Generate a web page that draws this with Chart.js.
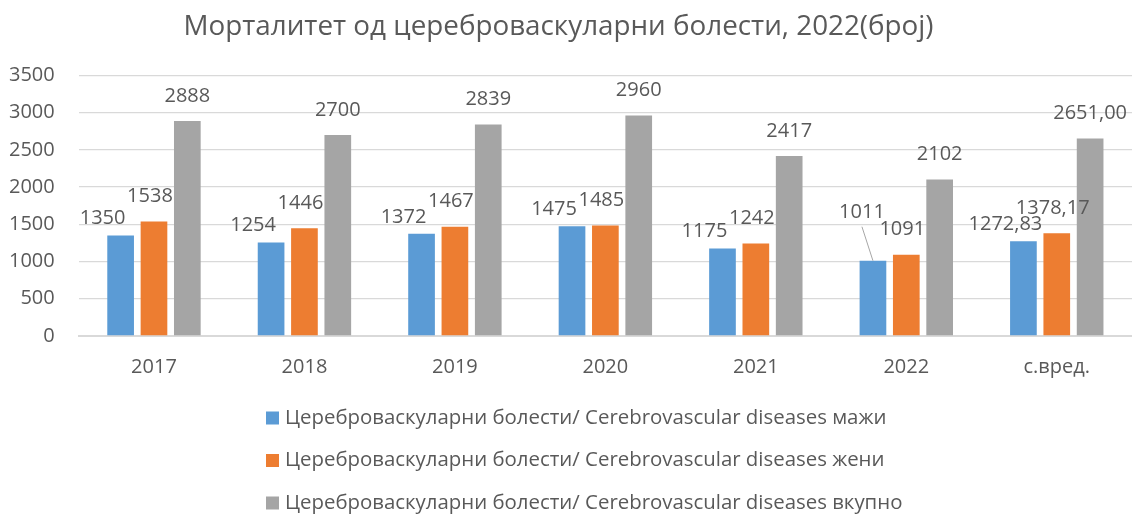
<!DOCTYPE html>
<html>
<head>
<meta charset="utf-8">
<script src="https://cdn.jsdelivr.net/npm/chart.js@4.4.1/dist/chart.umd.min.js"></script>
<style>
  html, body { margin: 0; padding: 0; background: #fff; }
  #wrap { width: 1132px; height: 516px; position: relative; }
</style>
</head>
<body>
<div id="wrap"><canvas id="mortalityChart"></canvas></div>
<script>
const categories = ['2017', '2018', '2019', '2020', '2021', '2022', 'с.вред.'];
const men = [1350, 1254, 1372, 1475, 1175, 1011, 1272.83];
const women = [1538, 1446, 1467, 1485, 1242, 1091, 1378.17];
const total = [2888, 2700, 2839, 2960, 2417, 2102, 2651.00];
const seriesNames = [
    'Цереброваскуларни болести/ Cerebrovascular diseases мажи',
    'Цереброваскуларни болести/ Cerebrovascular diseases жени',
    'Цереброваскуларни болести/ Cerebrovascular diseases вкупно'
];
const yTicks = [0, 500, 1000, 1500, 2000, 2500, 3000, 3500];

const TEXT = '#595959';
const FONT = "'Open Sans', 'Noto Sans', sans-serif";
const colors = ['#5B9BD5', '#ED7D31', '#A5A5A5'];

// label text: the average column keeps two decimals with a comma
function formatValue(v, index) {
    if (categories[index] === 'с.вред.') return v.toFixed(2).replace('.', ',');
    return String(Math.round(v));
}

// value labels above each bar, per series offset, plus one callout with a leader line
const barLabels = {
    id: 'barLabels',
    afterDatasetsDraw(chart, args, opts) {
        const ctx = chart.ctx;
        ctx.save();
        ctx.font = `20px ${FONT}`;
        ctx.fillStyle = TEXT;
        ctx.textAlign = 'center';
        ctx.textBaseline = 'middle';
        chart.data.datasets.forEach((ds, di) => {
            const meta = chart.getDatasetMeta(di);
            const off = opts.offsets[di];
            meta.data.forEach((bar, i) => {
                const callout = opts.callouts.find(c => c.dataset === di && c.index === i);
                const text = formatValue(ds.data[i], i);
                if (callout) {
                    const lx = bar.x + callout.dx;
                    const ly = bar.y - callout.dy;
                    ctx.strokeStyle = '#A6A6A6';
                    ctx.lineWidth = 1;
                    ctx.beginPath();
                    ctx.moveTo(lx, ly + 14);
                    ctx.lineTo(bar.x, bar.y);
                    ctx.stroke();
                    ctx.fillText(text, lx, ly);
                } else {
                    ctx.fillText(text, bar.x + off.dx, bar.y - off.dy);
                }
            });
        });
        ctx.restore();
    }
};

// stacked legend below the axis, left edges aligned
const stackedLegend = {
    id: 'stackedLegend',
    afterDraw(chart, args, opts) {
        const ctx = chart.ctx;
        ctx.save();
        ctx.font = `20.4px ${FONT}`;
        ctx.textBaseline = 'middle';
        ctx.textAlign = 'left';
        chart.data.datasets.forEach((ds, i) => {
            const y = opts.top + i * opts.rowGap;
            ctx.fillStyle = ds.backgroundColor;
            ctx.fillRect(opts.left, y - 6.5, 13, 13);
            ctx.fillStyle = TEXT;
            ctx.fillText(ds.label, opts.left + 19, y);
        });
        ctx.restore();
    }
};

const ctx = document.getElementById('mortalityChart').getContext('2d');
new Chart(ctx, {
    type: 'bar',
    data: {
        labels: categories,
        datasets: [men, women, total].map((values, i) => ({
            label: seriesNames[i],
            data: values,
            backgroundColor: colors[i],
            borderWidth: 0,
            categoryPercentage: 0.665,
            barPercentage: 0.8
        }))
    },
    options: {
        responsive: true,
        maintainAspectRatio: false,
        animation: false,
        // tick padding counts twice in the axis width, hence the negative left pad
        layout: { padding: { left: -15, right: 0, top: 0, bottom: 118 } },
        plugins: {
            legend: { display: false },
            tooltip: { enabled: false },
            title: {
                display: true,
                text: 'Морталитет од цереброваскуларни болести, 2022(број)',
                color: TEXT,
                font: { family: FONT, size: 27.8, weight: 'normal' },
                padding: { top: 10, bottom: 32 }
            },
            barLabels: {
                offsets: [{ dx: -18, dy: 17 }, { dx: -4, dy: 25 }, { dx: 0, dy: 25 }],
                callouts: [{ dataset: 0, index: 5, dx: -11, dy: 48 }]
            },
            stackedLegend: { left: 266, top: 418, rowGap: 42.5 }
        },
        scales: {
            x: {
                grid: { display: false, drawTicks: false },
                border: { display: true, color: '#D9D9D9', width: 2 },
                ticks: { color: TEXT, font: { family: FONT, size: 20 }, padding: 19 }
            },
            y: {
                min: 0,
                max: 3500,
                afterBuildTicks(scale) {
                    scale.ticks = yTicks.map(v => ({ value: v }));
                },
                grid: { color: '#D9D9D9', lineWidth: 1.3, drawTicks: false },
                border: { display: false },
                ticks: {
                    color: TEXT,
                    font: { family: FONT, size: 20 },
                    padding: 24,
                    callback: v => String(v)
                }
            }
        }
    },
    plugins: [barLabels, stackedLegend]
});
</script>
</body>
</html>
